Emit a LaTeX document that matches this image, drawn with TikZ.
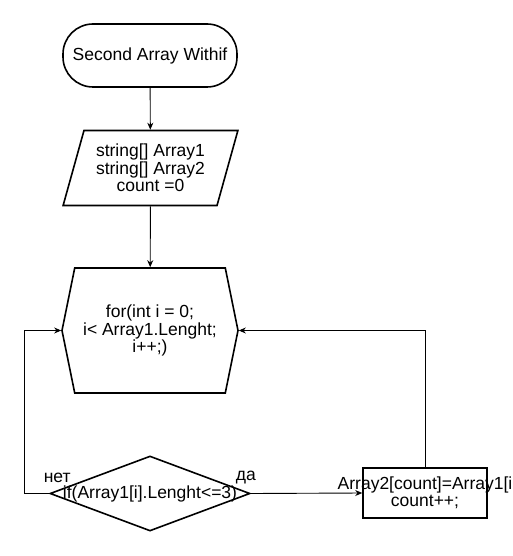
\documentclass[tikz,border=0pt]{standalone}
\usepackage{fontspec}
\setmainfont{Liberation Sans}
\usetikzlibrary{shapes.geometric,shapes.symbols,arrows.meta}

\begin{document}
\begin{tikzpicture}
[x=1pt,y=-1pt,
  font=\fontsize{17.5}{17.5}\selectfont,
  lineDecorate/.style={-{Stealth[length=7pt,width=6pt]},line width=0.9pt},%
  startDecorate/.style={shape=rectangle,rounded corners=30pt,draw,line width=1.6pt,
    minimum width=174pt,minimum height=63pt},
  ioDecorate/.style={shape=trapezium,trapezium left angle=71.6,trapezium right angle=108.4,
    trapezium stretches=true,draw,line width=1.6pt,align=center,
    minimum width=175pt,minimum height=75pt},
  loopDecorate/.style={shape=signal,signal to=west and east,signal pointer angle=157,
    draw,line width=1.6pt,align=center,minimum width=176pt,minimum height=125pt},
  condDecorate/.style={shape=diamond,draw,line width=1.6pt,
    minimum width=200pt,minimum height=75pt,inner sep=0pt},
  bodyDecorate/.style={shape=rectangle,draw,line width=1.6pt,
    minimum width=124pt,minimum height=50pt},
  labelDecorate/.style={align=center,inner sep=0pt}]
\useasboundingbox (0,0) rectangle (513,556);
%% nodes or vertices
\node (start) at (150,55.5) [startDecorate] {Second Array Withif};
\node (io) at (150.5,168) [ioDecorate] {string[] Array1\\string[] Array2\\count =0};
\node (loop) at (150,330.5) [loopDecorate] {for(int i = 0;\\i< Array1.Lenght;\\i++;)};
\node (cond) at (150,493.5) [condDecorate,
  label={[labelDecorate]center:if(Array1[i].Lenght<=3)}] {};
\node (body) at (425,493) [bodyDecorate,
  label={[labelDecorate]center:Array2[count]=Array1[i\\count++;}] {};
\node (no) at ([xshift=8pt,yshift=16pt]cond.west) {нет};
\node (yes) at ([xshift=-5pt,yshift=16pt]cond.east) {да};
%% edges or lines
\draw[lineDecorate] (start) -- (io);
\draw[lineDecorate] (io) -- (loop);
\draw[lineDecorate] (cond.west) -- ([xshift=-25pt]cond.west) |- (loop.west);
\draw[lineDecorate] (cond.east) -- (body.west);
\draw[lineDecorate] (body.north) |- (loop.east);
\end{tikzpicture}
\end{document}
